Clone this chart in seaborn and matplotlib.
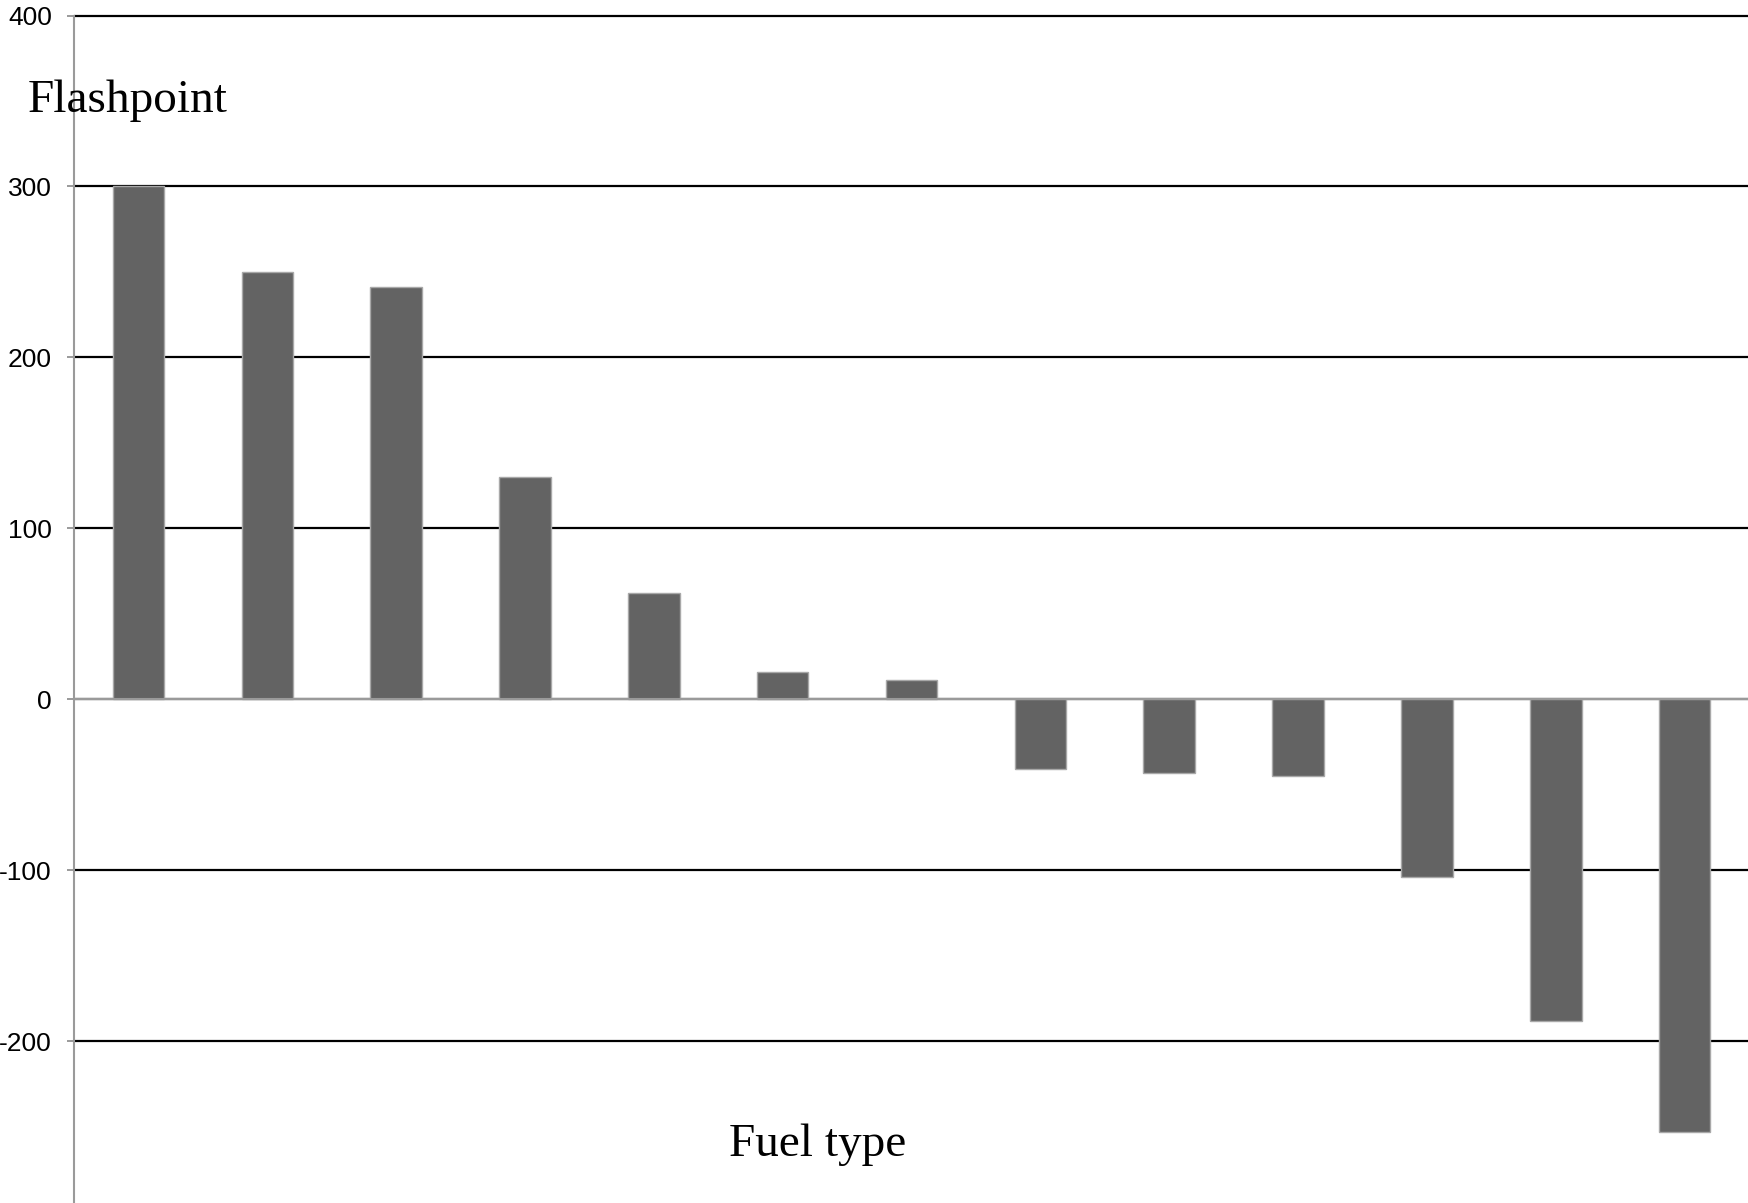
import matplotlib
matplotlib.use("Agg")
import matplotlib.pyplot as plt
import seaborn as sns
import pandas as pd

# Flashpoint of each fuel, sorted from highest to lowest
fuels = ["F01", "F02", "F03", "F04", "F05", "F06", "F07",
         "F08", "F09", "F10", "F11", "F12", "F13"]
flashpoint = [300, 250, 241, 130, 62, 16, 11, -41, -43, -45, -104, -188, -253]
y_ticks = [-300, -200, -100, 0, 100, 200, 300, 400]

sns.set_theme(style="white")
plt.rcParams["font.family"] = ["Liberation Sans", "DejaVu Sans"]
plt.rcParams["text.color"] = "black"

df = pd.DataFrame({"fuel": fuels, "flashpoint": flashpoint})

fig = plt.figure(figsize=(17.49, 12.03), dpi=100)
ax = fig.add_axes([74 / 1749, -0.0075, 1 - 74 / 1749, 0.9946])

sns.barplot(data=df, x="fuel", y="flashpoint", order=fuels, color="#636363",
            saturation=1, width=0.4, edgecolor="#a8a8a8", linewidth=1.0, ax=ax)

ax.set_xlim(-0.5, 12.5)
ax.set_ylim(-300, 400)
ax.set_yticks(y_ticks)
ax.set_yticklabels([str(v) for v in y_ticks], fontsize=19, color="black")
ax.set_xticks([])
ax.set_xlabel("")
ax.set_ylabel("")

# horizontal gridlines behind the bars, grey zero line on top
ax.set_axisbelow(True)
ax.yaxis.grid(True, color="black", linewidth=1.6)
for gl in ax.get_ygridlines():
    gl.set_clip_on(False)
ax.axhline(0, color="#9a9a9a", linewidth=1.5, zorder=3)

for side in ["top", "right", "bottom"]:
    ax.spines[side].set_visible(False)
ax.spines["left"].set_color("#9a9a9a")
ax.spines["left"].set_linewidth(1.5)
ax.tick_params(axis="y", direction="out", length=5, width=1.4,
               color="#9a9a9a", pad=11, left=True)

fig.text(28 / 1749, 1 - 112 / 1203, "Flashpoint", fontsize=34, color="black",
         family=["Liberation Serif", "DejaVu Serif"], ha="left", va="baseline")
fig.text(818 / 1749, 1 - 1156 / 1203, "Fuel type", fontsize=34, color="black",
         family=["Liberation Serif", "DejaVu Serif"], ha="center", va="baseline")

fig.savefig("out.png", dpi=100, facecolor="white")
